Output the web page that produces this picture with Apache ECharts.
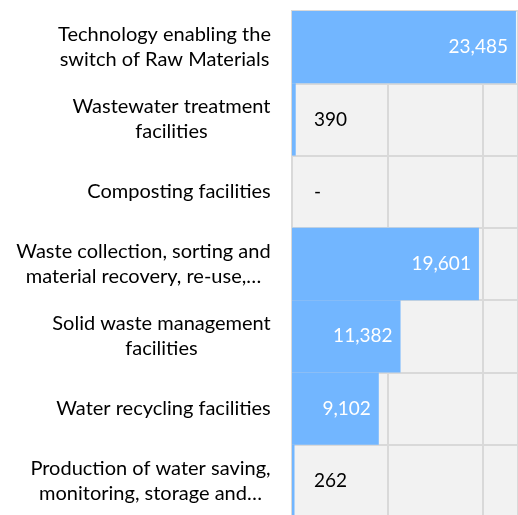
<!DOCTYPE html>
<html>
<head>
<meta charset="utf-8">
<script src="https://cdn.jsdelivr.net/npm/echarts@6/dist/echarts.min.js"></script>
<style>
  html, body { margin: 0; padding: 0; background: #fff; }
  #main { width: 518px; height: 515px; }
</style>
</head>
<body>
<div id="main"></div>
<script>
// categories, top to bottom
const categories = [
  'Technology enabling the\nswitch of Raw Materials',
  'Wastewater treatment\nfacilities',
  'Composting facilities',
  'Waste collection, sorting and\nmaterial recovery, re-use,…',
  'Solid waste management\nfacilities',
  'Water recycling facilities',
  'Production of water saving,\nmonitoring, storage and…'
]
const values = [23485, 390, 0, 19601, 11382, 9102, 262]

const FONT = 'Lato'
const LABEL_SIZE = 20

// measure text so wrapped lines can be centred inside a right-aligned block
const ctx = document.createElement('canvas').getContext('2d')
ctx.font = LABEL_SIZE + 'px ' + FONT
function lineWidth(s) {
  return Math.ceil(ctx.measureText(s).width)
}
function blockWidth(c) {
  return Math.max.apply(null, c.split('\n').map(lineWidth))
}

function fmt(v) {
  if (!v) return '-'
  return v.toLocaleString('en-US')
}

const barData = values.map(v => {
  let big = v > 5000
  return {
    value: v,
    label: big
      ? { position: 'insideRight', distance: 8, color: '#fff' }
      : { position: 'insideLeft', distance: 22, color: '#000' }
  }
})

let rich = {}
categories.forEach(c => {
  let w = blockWidth(c)
  rich['c' + w] = {
    width: w,
    align: 'center',
    fontFamily: FONT,
    fontSize: LABEL_SIZE,
    lineHeight: 25,
    color: '#000'
  }
})

const chart = echarts.init(document.getElementById('main'))
chart.setOption({
  animation: false,
  grid: {
    left: 292,
    top: 11,
    right: 0,
    bottom: -2,
    outerBoundsMode: 'none',
    show: true,
    backgroundColor: '#f2f2f2',
    borderColor: '#d9d9d9',
    borderWidth: 2
  },
  xAxis: {
    type: 'value',
    min: 0,
    max: 23700,
    interval: 10000,
    axisLabel: { show: false },
    axisLine: { show: false },
    axisTick: { show: false },
    splitLine: { show: true, lineStyle: { color: '#d9d9d9', width: 2 } }
  },
  yAxis: {
    type: 'category',
    inverse: true,
    data: categories,
    axisLine: { show: true, lineStyle: { color: '#d9d9d9', width: 2 } },
    axisTick: { show: false },
    splitLine: { show: true, lineStyle: { color: '#d9d9d9', width: 2 } },
    axisLabel: {
      margin: 21,
      align: 'right',
      formatter: function (val) {
        let w = blockWidth(val)
        return val.split('\n').map(l => '{c' + w + '|' + l + '}').join('\n')
      },
      rich: rich
    }
  },
  series: [{
    type: 'bar',
    data: barData,
    barWidth: '100%',
    barCategoryGap: 0,
    itemStyle: { color: '#72b6ff' },
    label: {
      show: true,
      fontFamily: FONT,
      fontSize: 19,
      formatter: p => fmt(p.value)
    }
  }]
})
</script>
</body>
</html>
